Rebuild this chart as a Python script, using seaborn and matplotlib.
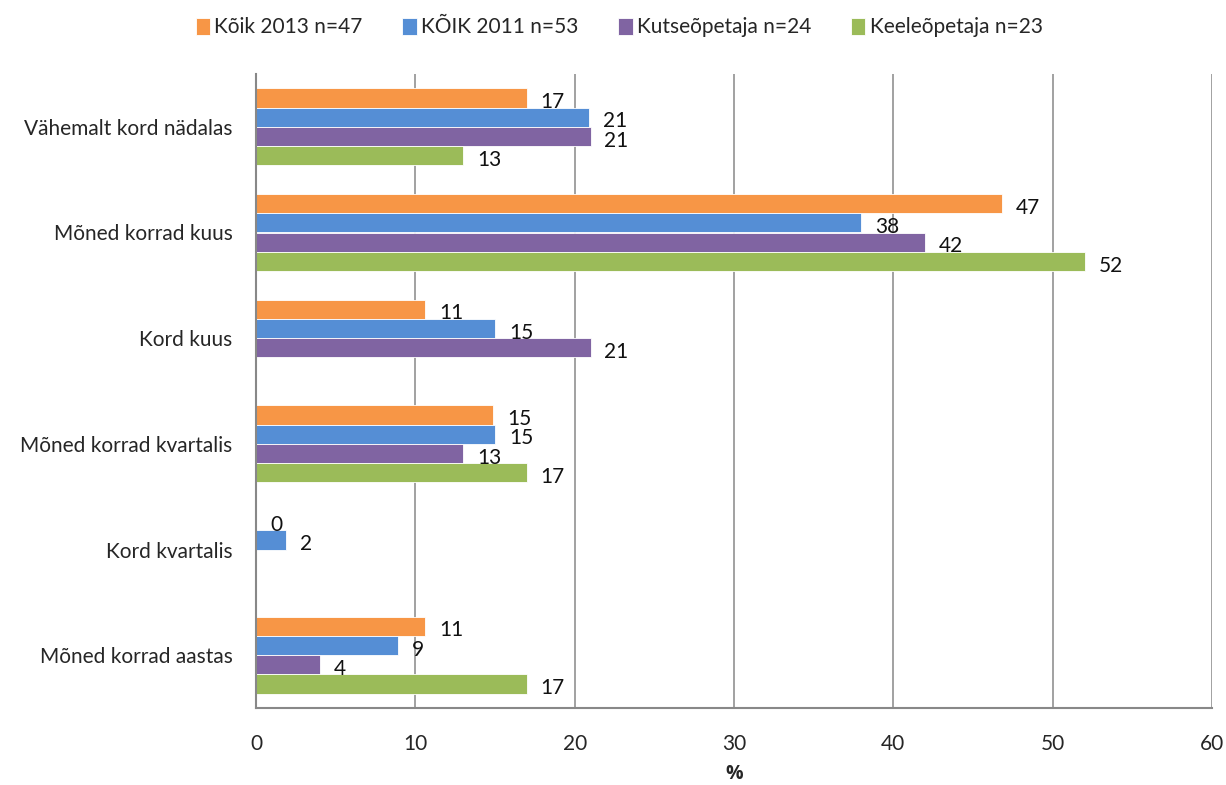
import matplotlib
matplotlib.use("Agg")
import matplotlib.pyplot as plt
import seaborn as sns
import pandas as pd
import numpy as np

categories = ["Vähemalt kord nädalas", "Mõned korrad kuus", "Kord kuus",
              "Mõned korrad kvartalis", "Kord kvartalis", "Mõned korrad aastas"]
series_names = ["Kõik 2013 n=47", "KÕIK 2011 n=53", "Kutseõpetaja n=24", "Keeleõpetaja n=23"]
koik_2013 = [17.0, 46.8, 10.6, 14.9, 0.0, 10.6]
koik_2011 = [20.9, 38.0, 15.0, 15.0, 1.9, 8.9]
kutseopetaja = [21.0, 42.0, 21.0, 13.0, np.nan, 4.0]
keeleopetaja = [13.0, 52.0, np.nan, 17.0, np.nan, 17.0]
colors = ["#F79646", "#558ED5", "#8064A2", "#9BBB59"]
x_ticks = [0, 10, 20, 30, 40, 50, 60]

rows = []
for name, vals in zip(series_names, [koik_2013, koik_2011, kutseopetaja, keeleopetaja]):
    for cat, v in zip(categories, vals):
        if not np.isnan(v):
            rows.append({"cat": cat, "series": name, "val": v})
df = pd.DataFrame(rows)

sns.set_theme(style="white")
plt.rcParams["font.family"] = ["Lato", "DejaVu Sans"]
FS = 15

fig = plt.figure(figsize=(12.26, 7.85), dpi=100)
ax = fig.add_axes([256/1226, 1-708/785, (1212-256)/1226, (708-74)/785])

sns.barplot(data=df, y="cat", x="val", hue="series", order=categories,
            hue_order=series_names, palette=colors, orient="h", width=0.73,
            saturation=1, edgecolor="white", linewidth=0.6, ax=ax,
            errorbar=None, legend=True)

for c in ax.containers:
    labels = [f"{int(round(b.get_width()))}" for b in c]
    texts = ax.bar_label(c, labels=labels, padding=10, fontsize=FS, color="#111111")
    for t in texts:
        t.set_verticalalignment("center")
        x, y = t.xyann
        t.xyann = (x, y - 3)

ax.set_xlim(0, 60)
ax.set_xticks(x_ticks)
ax.set_xticklabels([str(t) for t in x_ticks], fontsize=FS)
ax.set_ylim(len(categories) - 0.5, -0.5)
ax.set_yticks(range(len(categories)))
ax.set_yticklabels(categories, fontsize=FS)
ax.set_yticks(np.arange(-0.5, len(categories), 1), minor=True)
ax.tick_params(axis="y", which="major", length=0, pad=17)
ax.tick_params(axis="y", which="minor", length=9, width=1.2, color="#888888", direction="out")
ax.tick_params(axis="x", which="major", length=5, width=1.2, color="#888888", direction="out", pad=14)
ax.set_ylabel("")
ax.set_xlabel("%", fontsize=14, fontweight="bold", family=["Open Sans", "DejaVu Sans"], labelpad=7)

ax.grid(axis="x", color="#888888", linewidth=1.1)
ax.set_axisbelow(True)
for s in ["top", "right"]:
    ax.spines[s].set_visible(False)
for s in ["left", "bottom"]:
    ax.spines[s].set_color("#888888")
    ax.spines[s].set_linewidth(1.5)

handles, labels = ax.get_legend_handles_labels()
ax.get_legend().remove()
fig.legend(handles, labels, loc="center", bbox_to_anchor=(0.505, 0.965), ncol=4,
           frameon=False, fontsize=FS, handlelength=0.7, handleheight=0.9,
           handletextpad=0.2, columnspacing=1.9)

fig.savefig("out.png", dpi=100)
